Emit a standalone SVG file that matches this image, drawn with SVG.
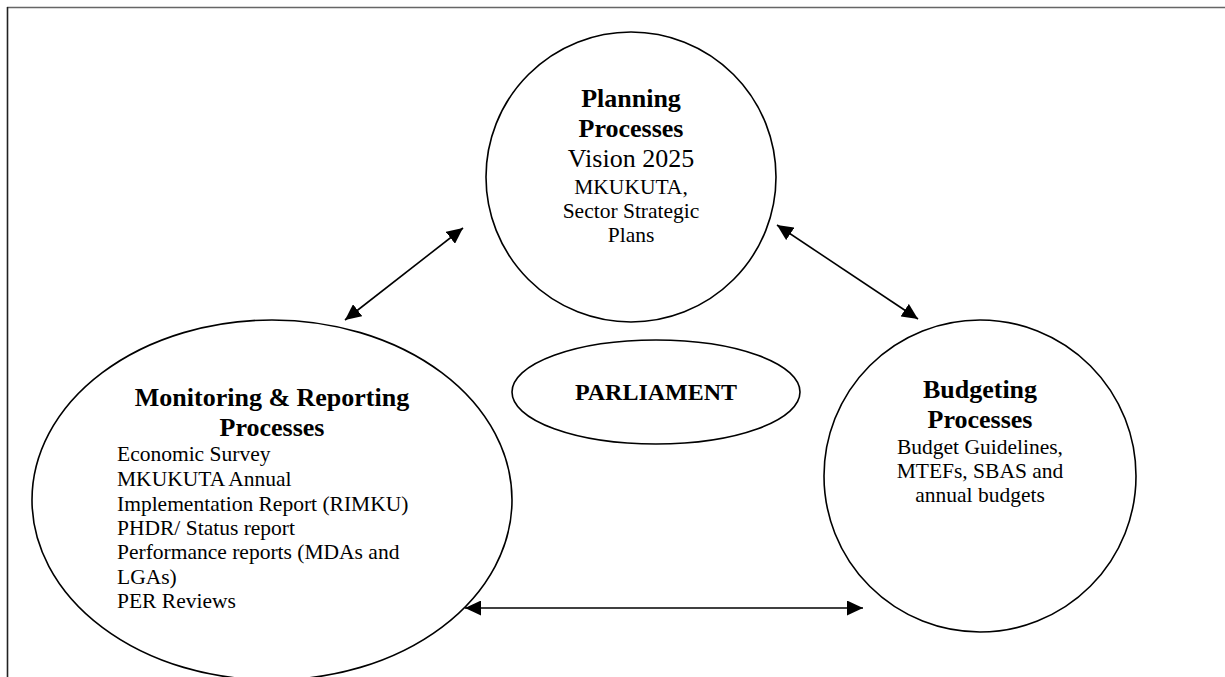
<svg xmlns="http://www.w3.org/2000/svg" width="1225" height="677" viewBox="0 0 1225 677">
<style>
.node{fill:#fff;stroke:#000;stroke-width:1.6}
.t{font-family:"Liberation Serif","Times New Roman",serif;fill:#000}
.b{font-weight:bold;font-size:26px}
.r{font-size:21.5px}
.conn{stroke:#000;stroke-width:1.6;fill:none}
</style>
<defs>
<marker id="ah" viewBox="0 0 16 15" refX="16" refY="7.5" markerWidth="16" markerHeight="15" markerUnits="userSpaceOnUse" orient="auto-start-reverse">
<path d="M0,0 L16,7.5 L0,15 Z" fill="#000"/>
</marker>
</defs>
<rect width="1225" height="677" fill="#fff"/>
<g id="frame">
<line x1="7" y1="7.5" x2="1225" y2="7.5" stroke="#666" stroke-width="1.6"/>
<line x1="7.5" y1="7" x2="7.5" y2="677" stroke="#222" stroke-width="1.6"/>
</g>
<g id="planning">
<circle class="node" cx="631" cy="177" r="145"/>
<text class="t b" x="631" y="107" text-anchor="middle">Planning</text>
<text class="t b" x="631" y="137" text-anchor="middle">Processes</text>
<text class="t" x="631" y="167" text-anchor="middle" font-size="26">Vision 2025</text>
<text class="t r" x="631" y="194" text-anchor="middle">MKUKUTA,</text>
<text class="t r" x="631" y="218" text-anchor="middle">Sector Strategic</text>
<text class="t r" x="631" y="242" text-anchor="middle">Plans</text>
</g>
<g id="monitoring">
<ellipse class="node" cx="272" cy="500" rx="240" ry="180"/>
<text class="t b" x="272" y="406" text-anchor="middle">Monitoring &amp; Reporting</text>
<text class="t b" x="272" y="436" text-anchor="middle">Processes</text>
<text class="t r" x="117" y="461">Economic Survey</text>
<text class="t r" x="117" y="486">MKUKUTA Annual</text>
<text class="t r" x="117" y="511">Implementation Report (RIMKU)</text>
<text class="t r" x="117" y="535">PHDR/ Status report</text>
<text class="t r" x="117" y="559">Performance reports (MDAs and</text>
<text class="t r" x="117" y="584">LGAs)</text>
<text class="t r" x="117" y="608">PER Reviews</text>
</g>
<g id="parliament">
<ellipse class="node" cx="656" cy="392" rx="144" ry="52"/>
<text class="t" x="656" y="400" text-anchor="middle" font-weight="bold" font-size="24">PARLIAMENT</text>
</g>
<g id="budgeting">
<circle class="node" cx="980" cy="476" r="156"/>
<text class="t b" x="980" y="398" text-anchor="middle">Budgeting</text>
<text class="t b" x="980" y="428" text-anchor="middle">Processes</text>
<text class="t r" x="980" y="454" text-anchor="middle">Budget Guidelines,</text>
<text class="t r" x="980" y="478" text-anchor="middle">MTEFs, SBAS and</text>
<text class="t r" x="980" y="502" text-anchor="middle">annual budgets</text>
</g>
<g id="connectors">
<line class="conn" x1="463" y1="228" x2="345" y2="320" marker-start="url(#ah)" marker-end="url(#ah)"/>
<line class="conn" x1="777" y1="225" x2="918" y2="319" marker-start="url(#ah)" marker-end="url(#ah)"/>
<line class="conn" x1="465" y1="608" x2="863" y2="608" marker-start="url(#ah)" marker-end="url(#ah)"/>
</g>
</svg>
